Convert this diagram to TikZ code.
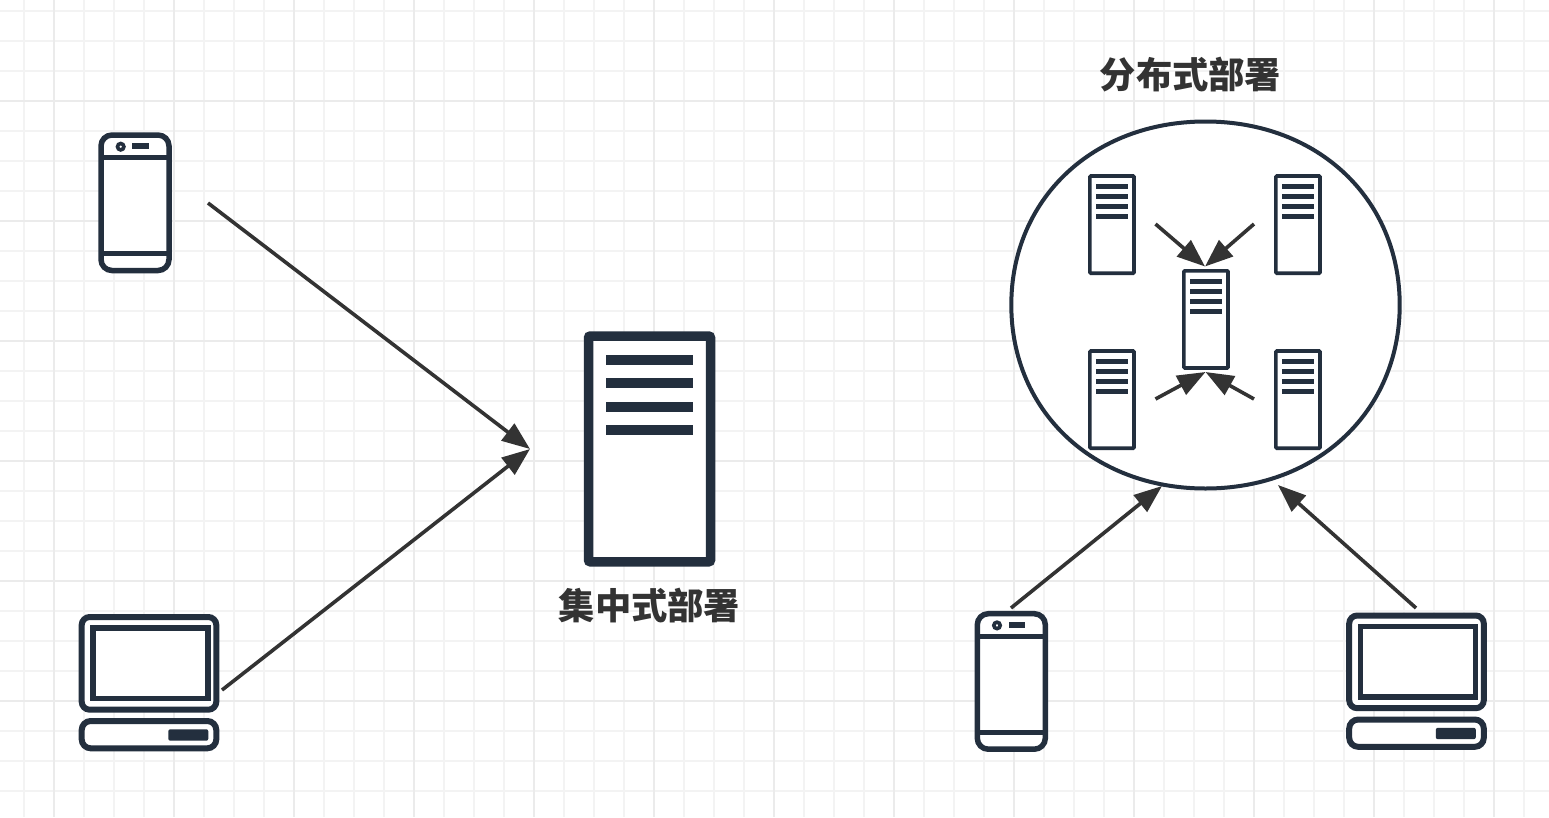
\documentclass[tikz,border=0pt]{standalone}
\usepackage{fontspec}
\newfontfamily\cjk{Noto Sans CJK SC}
\usetikzlibrary{arrows.meta,shapes.geometric}
\definecolor{icon}{HTML}{232F3E}
\definecolor{ink}{HTML}{333333}
\definecolor{gridminor}{HTML}{F3F3F3}
\definecolor{gridmajor}{HTML}{EBEBEB}
\tikzset{
  gridline/.style={draw=gridminor,line width=2pt},
  gridheavy/.style={draw=gridmajor,line width=2pt},
  frame/.style={draw=icon,fill=white,inner sep=0pt,outer sep=0pt,anchor=north west},
  bar/.style={fill=icon,draw=none},
  barline/.style={draw=icon,line width=5.5pt},
  conn/.style={draw=ink,line width=3.6pt,-{Triangle[length=28pt,width=21pt,fill=ink]}},
  title/.style={font=\cjk\bfseries\fontsize{36.3}{40}\selectfont,text=ink,inner sep=0pt},
}
% phone: top-left of the centre-line frame at (#2,#3)
\newcommand{\phoneicon}[3]{
  \node[frame,line width=5.5pt,rounded corners=11pt,minimum width=68pt,minimum height=135.5pt] (#1) at (#2,#3) {};
  \begin{scope}[shift={(#2,#3)}]
    \draw[barline] (0,22.7) -- (68,22.7);
    \draw[barline] (0,118.7) -- (68,118.7);
    \draw[icon,line width=3.6pt] (19.7,11.7) circle[radius=3.2pt];
    \fill[bar] (31.3,8.3) rectangle (48,14.3);
  \end{scope}
}
% laptop: top-left of the outer frame's centre line at (#2,#3)
\newcommand{\laptopicon}[3]{
  \node[frame,line width=6pt,rounded corners=8pt,minimum width=134.6pt,minimum height=92.7pt] (#1) at (#2,#3) {};
  \begin{scope}[shift={(#2,#3)}]
    \draw[icon,line width=5.5pt] (11.1,11.1) rectangle (126.5,81.6);
    \draw[icon,fill=white,line width=6pt,rounded corners=9pt] (0,104) rectangle (134.6,131.3);
    \fill[bar,rounded corners=2pt] (86.6,112.3) rectangle (126.6,123.7);
  \end{scope}
}
\newcommand{\smallserver}[3]{
  \node[frame,line width=3.6pt,rounded corners=1pt,minimum width=44.2pt,minimum height=97.2pt] (#1) at (#2,#3) {};
  \begin{scope}[shift={(#2,#3)}]
    \foreach \n in {8.2,18.2,28.2,38.2}{
      \fill[bar] (6.2,\n) rectangle (38,\n+4.7);
    }
  \end{scope}
}
\begin{document}
\begin{tikzpicture}[x=1pt,y=-1pt]
\useasboundingbox (0,0) rectangle (1549,817);
\fill[white] (0,0) rectangle (1549,817);
% grid
\foreach \k in {0,...,51}{
  \pgfmathsetmacro{\gx}{24+30*\k}
  \draw[gridline] (\gx,0) -- (\gx,817);
}
\foreach \k in {0,...,26}{
  \pgfmathsetmacro{\gy}{11+30*\k}
  \draw[gridline] (0,\gy) -- (1549,\gy);
}
\foreach \k in {0,...,12}{
  \pgfmathsetmacro{\gx}{54+120*\k}
  \draw[gridheavy] (\gx,0) -- (\gx,817);
}
\foreach \k in {0,...,5}{
  \pgfmathsetmacro{\gy}{101+120*\k}
  \draw[gridheavy] (0,\gy) -- (1549,\gy);
}
% left part
\phoneicon{phoneA}{101}{135}
\laptopicon{laptopA}{81.7}{617}
\node[frame,line width=9.5pt,rounded corners=2pt,minimum width=122pt,minimum height=225.8pt] (bigserver) at (588.5,336) {};
\foreach \n in {355,378.3,401.7,425}{
  \fill[bar] (606.3,\n) rectangle (692.7,\n+10);
}
\node[title] (titleA) at (649.5,606) {集中式部署};
\coordinate (phoneAout) at (208,203);
\coordinate (laptopAout) at (222,690);
\coordinate (bigin) at (530,449);
\draw[conn] (phoneAout) -- (bigin);
\draw[conn] (laptopAout) -- (bigin);
% right part: rounded oval drawn with fuller curves than a true ellipse
\node[ellipse,inner sep=0pt,outer sep=0pt,minimum width=388.4pt,minimum height=367pt] (cluster) at (1205.5,305) {};
\draw[icon,fill=white,line width=4pt]
  (cluster.east)
  .. controls +(0,-106) and +(112.6,0) .. (cluster.north)
  .. controls +(-112.6,0) and +(0,-106) .. (cluster.west)
  .. controls +(0,106) and +(-112.6,0) .. (cluster.south)
  .. controls +(112.6,0) and +(0,106) .. (cluster.east) -- cycle;
\node[title] (titleB) at (1190.5,75) {分布式部署};
\smallserver{srvTL}{1089.8}{176}
\smallserver{srvTR}{1275.8}{176}
\smallserver{srvC}{1183.8}{270.8}
\smallserver{srvBL}{1089.8}{351}
\smallserver{srvBR}{1275.8}{351}
\coordinate (tlout) at (1155.5,224);
\coordinate (trout) at (1254,224);
\coordinate (topin) at (1205,266.5);
\coordinate (blout) at (1155.5,399);
\coordinate (brout) at (1254,399);
\coordinate (botin) at (1205.5,372);
\draw[conn] (tlout) -- (topin);
\draw[conn] (trout) -- (topin);
\draw[conn] (blout) -- (botin);
\draw[conn] (brout) -- (botin);
\phoneicon{phoneB}{977.3}{613.7}
\laptopicon{laptopB}{1349.2}{615.5}
\coordinate (phoneBout) at (1011,608);
\coordinate (laptopBout) at (1416,608);
\coordinate (clusterinL) at (1162,486);
\coordinate (clusterinR) at (1278,485);
\draw[conn] (phoneBout) -- (clusterinL);
\draw[conn] (laptopBout) -- (clusterinR);
\end{tikzpicture}
\end{document}
